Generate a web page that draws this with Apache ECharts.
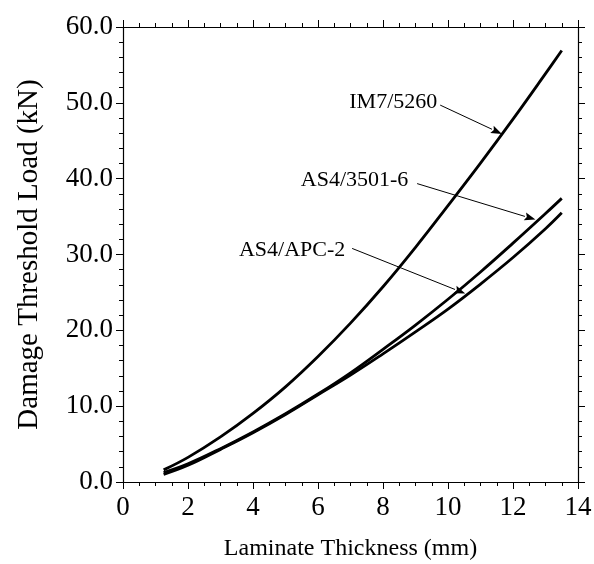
<!DOCTYPE html>
<html>
<head>
<meta charset="utf-8">
<script src="https://cdn.jsdelivr.net/npm/echarts@6/dist/echarts.min.js"></script>
<style>html,body{margin:0;padding:0;background:#fff;}#c{width:594px;height:564px;}</style>
</head>
<body>
<div id="c"></div>
<script>
// Data
const thickness = [1.25, 2, 3, 4, 5, 6, 7, 8, 9, 10, 11, 12, 13, 13.5];
const im7_5260  = [1.6, 3.25, 5.95, 9.05, 12.55, 16.55, 20.95, 25.75, 30.95, 36.45, 42.05, 47.85, 53.85, 56.9];
const as4_3501  = [1.25, 2.4, 4.4, 6.6, 9.0, 11.6, 14.4, 17.5, 20.7, 24.1, 27.7, 31.5, 35.4, 37.4];
const as4_apc2  = [1.0, 2.2, 4.3, 6.5, 8.9, 11.5, 14.1, 16.9, 19.8, 22.8, 26.1, 29.6, 33.4, 35.5];
const seriesNames = ['IM7/5260', 'AS4/3501-6', 'AS4/APC-2'];
const xTicks = [0, 2, 4, 6, 8, 10, 12, 14];
const yTicks = [0, 10, 20, 30, 40, 50, 60];
// annotations: label anchor (right edge, middle), arrow start, arrow end (data coords)
const annLabels = ['IM7/5260', 'AS4/3501-6', 'AS4/APC-2'];
const annText   = [[9.67, 50.1], [8.78, 39.8], [6.84, 30.5]];
const annFrom   = [[9.76, 49.7], [9.05, 39.35], [7.05, 30.8]];
const annTo     = [[11.66, 45.9], [12.69, 34.6], [10.53, 24.85]];

const FONT = 'Liberation Serif';
const chart = echarts.init(document.getElementById('c'), null, {renderer: 'canvas'});
const pairs = a => thickness.map((x, i) => [x, a[i]]);

const axisCommon = (pos, showLabel, isX) => ({
  type: 'value',
  position: pos,
  min: isX ? xTicks[0] : yTicks[0],
  max: isX ? xTicks[xTicks.length - 1] : yTicks[yTicks.length - 1],
  interval: isX ? 2 : 10,
  axisLine: {show: true, onZero: false, lineStyle: {color: '#000', width: 1.2}},
  axisTick: {show: true, inside: false, length: 7, lineStyle: {color: '#000', width: 1}},
  minorTick: {show: true, splitNumber: isX ? 4 : 5, length: 4, lineStyle: {color: '#000', width: 1}},
  splitLine: {show: false},
  axisLabel: {
    show: showLabel,
    color: '#000',
    fontFamily: FONT,
    fontSize: 27,
    margin: isX ? 12 : 10,
    formatter: v => isX ? String(v) : v.toFixed(1)
  }
});

const xMain = Object.assign(axisCommon('bottom', true, true), {
  name: 'Laminate Thickness (mm)', nameLocation: 'middle', nameGap: 55,
  nameTextStyle: {color: '#000', fontFamily: FONT, fontSize: 24}
});
const yMain = Object.assign(axisCommon('left', true, false), {
  name: 'Damage Threshold Load (kN)', nameLocation: 'middle', nameGap: 79,
  nameTextStyle: {color: '#000', fontFamily: FONT, fontSize: 29}
});

chart.setOption({
  animation: false,
  backgroundColor: '#fff',
  grid: {left: 123, right: 16, top: 27, bottom: 82, containLabel: false, outerBoundsMode: 'none'},
  xAxis: [xMain, axisCommon('top', false, true)],
  yAxis: [yMain, axisCommon('right', false, false)],
  series: [im7_5260, as4_3501, as4_apc2].map((d, i) => ({
    name: seriesNames[i],
    type: 'line',
    xAxisIndex: 0, yAxisIndex: 0,
    data: pairs(d),
    smooth: 0.4,
    showSymbol: false,
    lineStyle: {color: '#000', width: 2.8}
  }))
});

// annotations drawn via axis scales
const px = p => chart.convertToPixel({xAxisIndex: 0, yAxisIndex: 0}, p);
const graphics = [];
annLabels.forEach((t, i) => {
  const tp = px(annText[i]);
  graphics.push({type: 'text', x: tp[0], y: tp[1],
    style: {text: t, fill: '#000', font: '22px "' + FONT + '"', align: 'right', verticalAlign: 'middle'}});
  const a = px(annFrom[i]), b = px(annTo[i]);
  const ang = Math.atan2(b[1] - a[1], b[0] - a[0]);
  const L = 11, W = 4;
  const bx = b[0] - L * Math.cos(ang), by = b[1] - L * Math.sin(ang);
  graphics.push({type: 'line', shape: {x1: a[0], y1: a[1], x2: bx, y2: by},
    style: {stroke: '#000', lineWidth: 1}});
  graphics.push({type: 'polygon', shape: {points: [
      [b[0], b[1]],
      [bx - W * Math.sin(ang), by + W * Math.cos(ang)],
      [bx + 2 * Math.cos(ang), by + 2 * Math.sin(ang)],
      [bx + W * Math.sin(ang), by - W * Math.cos(ang)]
    ]}, style: {fill: '#000'}});
});
chart.setOption({graphic: graphics});
</script>
</body>
</html>
